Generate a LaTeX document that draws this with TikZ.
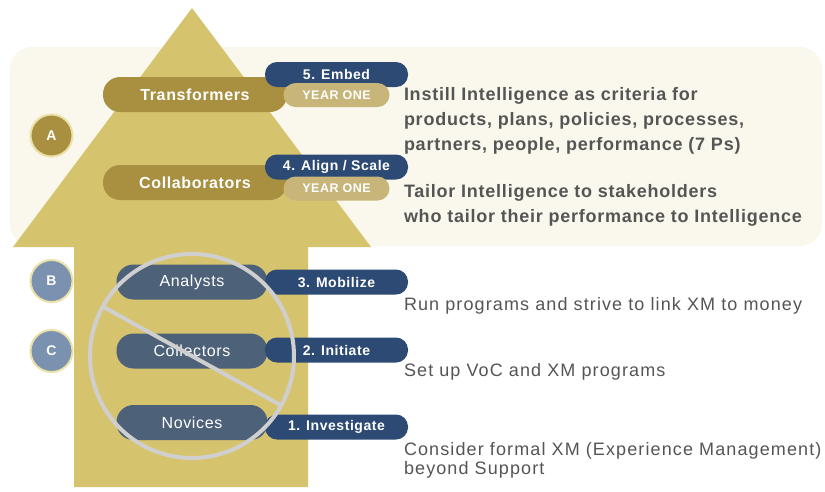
\documentclass[tikz,border=0pt]{standalone}
\usepackage{fontspec}
\setmainfont[LetterSpace=4]{Liberation Sans}
\newfontfamily\plainfont[LetterSpace=6.2]{Liberation Sans}
\newfontfamily\strongfont[LetterSpace=4.2]{Liberation Sans}
\usepackage{tikz}

\definecolor{cream}{HTML}{FAF8EC}
\definecolor{arrowgold}{HTML}{D6C36E}
\definecolor{darkgold}{HTML}{A89040}
\definecolor{lightgold}{HTML}{C7B57A}
\definecolor{navy}{HTML}{2D4A74}
\definecolor{slate}{HTML}{4D6179}
\definecolor{bluegray}{HTML}{7A91AF}
\definecolor{ringcream}{HTML}{EAE0A8}
\definecolor{banned}{HTML}{CFCFCF}
\definecolor{bodytext}{HTML}{555555}

\begin{document}
\begin{tikzpicture}[x=1pt, y=-1pt,
  every node/.style={inner sep=0pt, outer sep=0pt},
  pill/.style={rounded corners=17pt, minimum height=35pt, minimum width=184pt, text=white},
  steppill/.style={fill=navy, rounded corners=12pt, minimum height=25pt, minimum width=143pt, text=white, font=\bfseries\fontsize{14}{14}\selectfont},
  yearpill/.style={fill=lightgold, rounded corners=12pt, minimum height=24pt, minimum width=106pt, text=white, font=\bfseries\fontsize{12.5}{12.5}\selectfont},
  badge/.style={circle, minimum size=42pt, draw=ringcream, line width=2pt, text=white, font=\bfseries\fontsize{14}{14}\selectfont},
  boldline/.style={anchor=base west, text=bodytext, font=\strongfont\bfseries\fontsize{18}{18}\selectfont},
  plainline/.style={anchor=base west, text=bodytext, font=\plainfont\fontsize{18}{18}\selectfont}]
\useasboundingbox[fill=white] (0,0) rectangle (825,491);

% background band and arrow
\fill[cream, rounded corners=22pt] (10,47) rectangle (822,246);
\fill[arrowgold] (192,8) -- (371,247) -- (308,247) -- (308,487) -- (74,487) -- (74,247) -- (13,247) -- cycle;

% level pills
\node[pill, fill=darkgold, font=\bfseries\fontsize{16}{16}\selectfont] (transformers) at (195,94.5) {Transformers};
\node[pill, fill=darkgold, font=\bfseries\fontsize{16}{16}\selectfont] (collaborators) at (195,182.5) {Collaborators};
\node[pill, fill=slate, minimum width=151pt, font=\fontsize{16}{16}\selectfont] (analysts) at (192,282) {Analysts};
\node[pill, fill=slate, minimum width=151pt, font=\fontsize{16}{16}\selectfont] (collectors) at (192,351) {Collectors};
\node[pill, fill=slate, minimum width=151pt, font=\fontsize{16}{16}\selectfont] (novices) at (192,422.5) {Novices};

% step pills
\node[steppill] (embed) at (336.5,74.5) {5. Embed};
\node[yearpill] (yearA) at (336.5,95) {YEAR ONE};
\node[steppill] (align) at (336.5,167) {4. Align / Scale};
\node[yearpill] (yearB) at (336.5,188.5) {YEAR ONE};
\node[steppill] (mobilize) at (336.5,282) {3. Mobilize};
\node[steppill] (initiate) at (336.5,350) {2. Initiate};
\node[steppill] (investigate) at (336.5,427) {1. Investigate};

% badges
\node[badge, fill=darkgold] (A) at (51.5,135.5) {A};
\node[badge, fill=bluegray] (B) at (51.5,281) {B};
\node[badge, fill=bluegray] (C) at (51.5,351) {C};

% descriptions
\node[boldline] (instillA) at (404,100) {Instill Intelligence as criteria for};
\node[boldline] (instillB) at (404,125) {products, plans, policies, processes,};
\node[boldline] (instillC) at (404,150) {partners, people, performance (7 Ps)};
\node[boldline] (tailorA) at (404,197) {Tailor Intelligence to stakeholders};
\node[boldline] (tailorB) at (404,222) {who tailor their performance to Intelligence};
\node[plainline] (run) at (404,310.5) {Run programs and strive to link XM to money};
\node[plainline] (setup) at (404,376) {Set up VoC and XM programs};
\node[plainline] (considerA) at (404,455) {Consider formal XM (Experience Management)};
\node[plainline] (considerB) at (404,474) {beyond Support};

% no-entry sign
\draw[banned, line width=4pt] (192,356) circle (102pt);
\draw[banned, line width=4pt] (192,356) ++(151:102pt) -- ++(-29:204pt);
\end{tikzpicture}
\end{document}
